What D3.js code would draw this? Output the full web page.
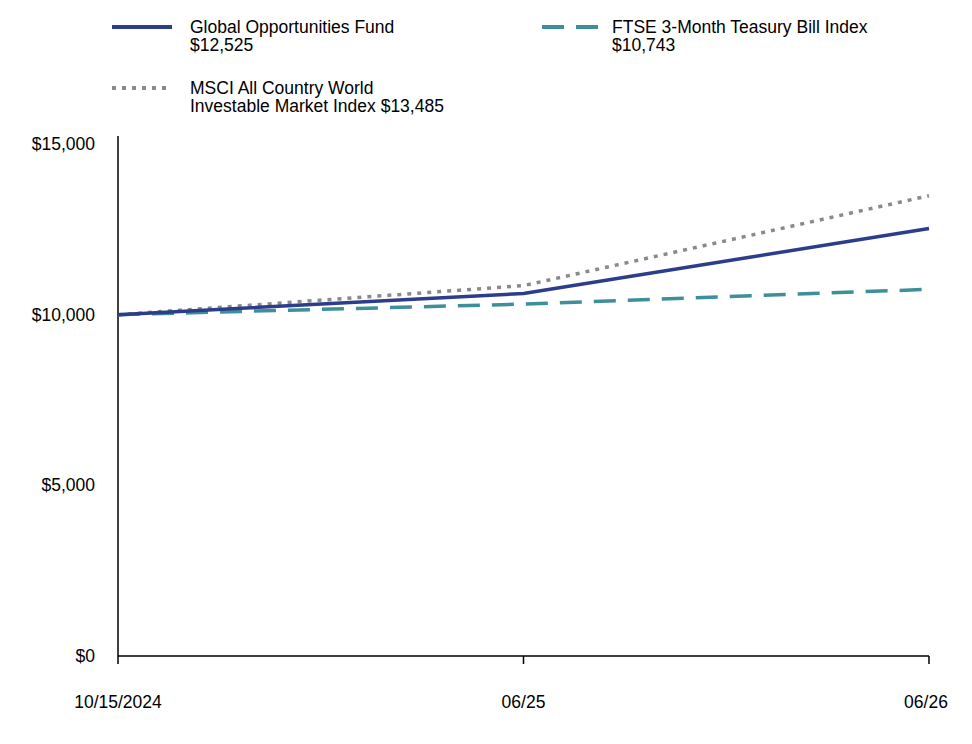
<!DOCTYPE html>
<html><head><meta charset="utf-8">
<script src="https://cdn.jsdelivr.net/npm/d3@7"></script>
<style>body{margin:0;background:#fff}text{font-family:"Liberation Sans",Arial,sans-serif}</style>
</head><body><svg id="c" width="972" height="744"></svg>
<script>
// chart data
let dates = ["10/15/2024", "06/25", "06/26"]
let fund = [10000, 10620, 12525]
let ftse = [10000, 10310, 10743]
let msci = [10000, 10850, 13485]
let yTicks = [0, 5000, 10000, 15000]

let svg = d3.select("#c")
let x = d3.scalePoint().domain(dates).range([118, 929])
let y = d3.scaleLinear().domain([0, 15000]).range([656, 144])

let series = [
  {name: ["Global Opportunities Fund", "$12,525"], vals: fund, color: "#2b3d8b", dash: null, lx: 112, lw: 60, tx: 190, ly: 27},
  {name: ["FTSE 3-Month Teasury Bill Index", "$10,743"], vals: ftse, color: "#3f8f9a", dash: "22,12", lx: 542, lw: 58, tx: 612, ly: 27},
  {name: ["MSCI All Country World", "Investable Market Index $13,485"], vals: msci, color: "#8a8a8a", dash: "4,6", lx: 112, lw: 60, tx: 190, ly: 88}
]

// axes
svg.append("line").attr("x1", 118).attr("x2", 118).attr("y1", 136).attr("y2", 656).attr("stroke", "#000").attr("stroke-width", 1.5)
svg.append("line").attr("x1", 118).attr("x2", 929).attr("y1", 656).attr("y2", 656).attr("stroke", "#000").attr("stroke-width", 1.5)
yTicks.forEach(t => {
  svg.append("text").attr("x", 95).attr("y", y(t) + 6).attr("text-anchor", "end").attr("font-size", 17.5).text(d3.format("$,")(t))
})
dates.forEach(d => {
  svg.append("line").attr("x1", x(d)).attr("x2", x(d)).attr("y1", 656).attr("y2", 664).attr("stroke", "#000").attr("stroke-width", 1.5)
  svg.append("text").attr("x", d == dates[2] ? x(d) - 3 : x(d)).attr("y", 708).attr("text-anchor", "middle").attr("font-size", 17.5).text(d)
})

let line = d3.line().x((v, i) => x(dates[i])).y(v => y(v))
// draw order: ftse, msci, fund on top
;[series[1], series[2], series[0]].forEach(s => {
  svg.append("path").attr("d", line(s.vals)).attr("fill", "none").attr("stroke", s.color)
    .attr("stroke-width", 3.5).attr("stroke-dasharray", s.dash)
})

// legend
series.forEach(s => {
  svg.append("line").attr("x1", s.lx).attr("x2", s.lx + s.lw).attr("y1", s.ly).attr("y2", s.ly)
    .attr("stroke", s.color).attr("stroke-width", 4).attr("stroke-dasharray", s.dash)
  s.name.forEach((t, i) => {
    svg.append("text").attr("x", s.tx).attr("y", s.ly + 6 + i * 18).attr("font-size", 17.5).text(t)
  })
})
</script></body></html>
